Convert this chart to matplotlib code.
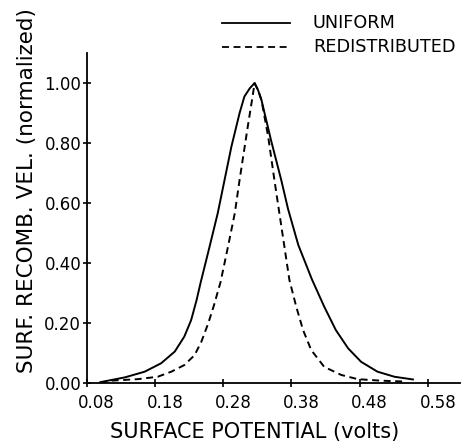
import numpy as np
import matplotlib
matplotlib.use('Agg')
import matplotlib.pyplot as plt
from matplotlib.transforms import ScaledTranslation

# values
uniform_x = [0.100, 0.136, 0.165, 0.189, 0.209, 0.223, 0.233, 0.241, 0.247, 0.260,
             0.272, 0.282, 0.292, 0.304, 0.311, 0.319, 0.326, 0.331, 0.336, 0.350,
             0.365, 0.375, 0.390, 0.410, 0.428, 0.445, 0.463, 0.482, 0.506, 0.531,
             0.558]
uniform_y = [0.002, 0.018, 0.037, 0.065, 0.104, 0.154, 0.209, 0.276, 0.335, 0.454,
             0.566, 0.677, 0.788, 0.900, 0.955, 0.983, 1.000, 0.977, 0.944, 0.810,
             0.677, 0.580, 0.460, 0.345, 0.254, 0.176, 0.115, 0.070, 0.037, 0.020,
             0.011]

redist_x = [0.100, 0.116, 0.155, 0.184, 0.204, 0.223, 0.238, 0.248, 0.258, 0.266,
            0.276, 0.287, 0.297, 0.304, 0.316, 0.323, 0.326, 0.331, 0.336, 0.346,
            0.355, 0.366, 0.377, 0.387, 0.397, 0.409, 0.428, 0.453, 0.477, 0.511,
            0.545]
redist_y = [0.000, 0.007, 0.012, 0.020, 0.037, 0.059, 0.092, 0.137, 0.198, 0.255,
            0.335, 0.454, 0.566, 0.677, 0.855, 0.955, 1.000, 0.977, 0.944, 0.820,
            0.677, 0.510, 0.343, 0.254, 0.176, 0.109, 0.053, 0.026, 0.012, 0.007,
            0.004]

x_ticks = [0.08, 0.18, 0.28, 0.38, 0.48, 0.58]
y_ticks = [0.00, 0.20, 0.40, 0.60, 0.80, 1.00]

plt.rcParams['font.family'] = 'DejaVu Sans'
plt.rcParams['lines.scale_dashes'] = False

fig = plt.figure(figsize=(4.62, 4.43), dpi=100)
ax = fig.add_axes([0.1877, 0.136, 0.808, 0.744])

ax.plot(uniform_x, uniform_y, 'k-', linewidth=1.4)
ax.plot(redist_x, redist_y, 'k--', linewidth=1.4, dashes=(5, 3.3))

ax.set_xlim(0.08, 0.627)
ax.set_ylim(0.0, 1.10)
ax.spines['top'].set_visible(False)
ax.spines['right'].set_visible(False)
ax.spines['left'].set_linewidth(1.3)
ax.spines['bottom'].set_linewidth(1.3)

ax.set_xticks(x_ticks)
ax.set_xticklabels(['%.2f' % v for v in x_ticks], fontsize=12)
ax.set_yticks(y_ticks)
ax.set_yticklabels(['%.2f' % v for v in y_ticks], fontsize=12)
ax.tick_params(axis='both', direction='inout', length=6, width=1.2)
ax.tick_params(axis='x', pad=5)
ax.tick_params(axis='y', pad=1)

offset = ScaledTranslation(0.1, 0, fig.dpi_scale_trans)
for lab in ax.get_xticklabels():
    lab.set_transform(lab.get_transform() + offset)

fig.text(255 / 462, 1 - 432 / 443, 'SURFACE POTENTIAL (volts)', fontsize=15,
         ha='center', va='center')
fig.text(27 / 462, 1 - 191 / 443, 'SURF. RECOMB. VEL. (normalized)', fontsize=15.5,
         ha='center', va='center', rotation=90)

# legend drawn by hand
fig.add_artist(plt.Line2D([222 / 462, 290 / 462], [1 - 23 / 443, 1 - 23 / 443],
                          color='k', linewidth=1.3))
fig.add_artist(plt.Line2D([222 / 462, 290 / 462], [1 - 47 / 443, 1 - 47 / 443],
                          color='k', linewidth=1.3, linestyle='--', dashes=(5, 3.3)))
fig.text(313 / 462, 1 - 23 / 443, 'UNIFORM', fontsize=12.7, ha='left', va='center')
fig.text(313 / 462, 1 - 47 / 443, 'REDISTRIBUTED', fontsize=12.7, ha='left', va='center')

plt.savefig('out.png', dpi=100)
